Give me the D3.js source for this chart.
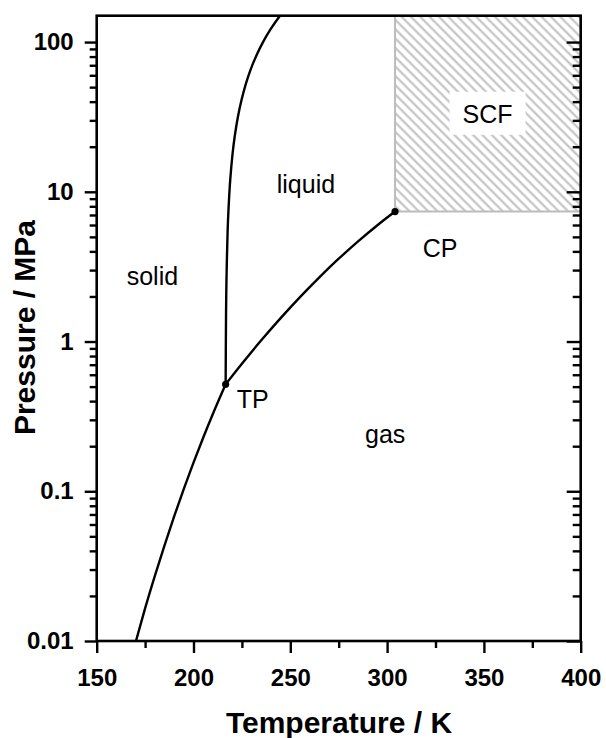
<!DOCTYPE html>
<html>
<head>
<meta charset="utf-8">
<script src="https://cdn.jsdelivr.net/npm/d3@7"></script>
<style>
  body { margin: 0; background: #fff; }
  svg { display: block; }
  text { font-family: "Liberation Sans", Arial, Helvetica, sans-serif; fill: #000; }
</style>
</head>
<body>
<svg id="chart" width="606" height="738"></svg>
<script>
// Axis ticks
const xTicks = [150, 200, 250, 300, 350, 400];
const xMinorTicks = [175, 225, 275, 325, 375];
const yTicks = [0.01, 0.1, 1, 10, 100];
const yTickLabels = ["0.01", "0.1", "1", "10", "100"];

// Solid–gas boundary (sublimation curve), T in K, P in MPa
const sublimationT = [169, 175, 180, 185, 190, 195, 200, 205, 210, 216.6];
const sublimationP = [0.0087, 0.0165, 0.0271, 0.0434, 0.0679, 0.1038, 0.1553, 0.2279, 0.3283, 0.518];

// Liquid–gas boundary (vapour pressure curve)
const vaporT = [216.6, 225, 235, 245, 255, 265, 275, 285, 295, 304.1];
const vaporP = [0.518, 0.711, 1.019, 1.434, 1.981, 2.685, 3.573, 4.667, 5.983, 7.38];

// Solid–liquid boundary (melting curve)
const meltT = [216.6, 216.8, 217.03, 217.6, 218.06, 218.97, 220.2, 221.3, 222.9, 224.8, 227.0, 229.4, 232.5, 235.9, 240.0, 244.3, 246.5];
const meltP = [0.518, 1.48, 2.57, 5.34, 7.55, 12.0, 18.03, 23.48, 31.47, 41.0, 52.39, 65.0, 81.41, 100.0, 122.8, 147.6, 160.4];

// Triple point and critical point
const pointNames = ["TP", "CP"];
const pointT = [216.6, 304.1];
const pointP = [0.518, 7.38];

// Supercritical region bounds
const scfT = [304.1, 400];
const scfP = [7.38, 150];

const svg = d3.select("#chart");
const mLeft = 96.7, mRight = 580.7, mTop = 15.7, mBottom = 641;

const x = d3.scaleLinear().domain([150, 400]).range([mLeft, mRight]);
const y = d3.scaleLog().domain([0.01, 150]).range([mBottom, mTop]);

const defs = svg.append("defs");
defs.append("clipPath").attr("id", "plotClip")
  .append("rect").attr("x", mLeft).attr("y", mTop)
  .attr("width", mRight - mLeft).attr("height", mBottom - mTop);

const pat = defs.append("pattern")
  .attr("id", "hatch")
  .attr("patternUnits", "userSpaceOnUse")
  .attr("width", 6.6).attr("height", 6.6)
  .attr("patternTransform", "rotate(-45)");
pat.append("line")
  .attr("x1", 1.5).attr("y1", -1).attr("x2", 1.5).attr("y2", 7.6)
  .attr("stroke", "#bfbfbf").attr("stroke-width", 2);

const plot = svg.append("g").attr("clip-path", "url(#plotClip)");

// Supercritical fluid region
plot.append("rect")
  .attr("x", x(scfT[0])).attr("y", y(scfP[1]))
  .attr("width", x(scfT[1]) - x(scfT[0]))
  .attr("height", y(scfP[0]) - y(scfP[1]))
  .attr("fill", "url(#hatch)");
plot.append("path")
  .attr("d", d3.line()([[x(scfT[0]), y(scfP[1])], [x(scfT[0]), y(scfP[0])], [x(scfT[1]), y(scfP[0])]]))
  .attr("fill", "none").attr("stroke", "#bcbcbc").attr("stroke-width", 2);

// Phase boundaries
const line = d3.line().x(d => x(d[0])).y(d => y(d[1])).curve(d3.curveCatmullRom.alpha(0.5));
const curves = [
  d3.zip(sublimationT, sublimationP),
  d3.zip(vaporT, vaporP),
  d3.zip(meltT, meltP)
];
plot.selectAll("path.boundary").data(curves).join("path")
  .attr("class", "boundary")
  .attr("d", line)
  .attr("fill", "none").attr("stroke", "#000").attr("stroke-width", 2.4)
  .attr("stroke-linejoin", "round");

plot.selectAll("circle.pt").data(d3.zip(pointT, pointP)).join("circle")
  .attr("class", "pt")
  .attr("cx", d => x(d[0])).attr("cy", d => y(d[1])).attr("r", 3.6)
  .attr("fill", "#000");

// SCF label on a white box
const scfGroup = svg.append("g");
const scfBox = scfGroup.append("rect").attr("fill", "#fff");
const scfText = scfGroup.append("text")
  .attr("x", x(351.9)).attr("y", y(28.9))
  .attr("text-anchor", "middle").attr("font-size", 25)
  .text("SCF");
const bb = scfText.node().getBBox();
scfBox
  .attr("x", bb.x - 13).attr("y", bb.y - 8)
  .attr("width", bb.width + 26).attr("height", bb.height + 15);

// Region and point labels
const labels = [
  ["solid", 165.5, 2.38],
  ["liquid", 243.0, 9.77],
  ["gas", 288.6, 0.209],
  [pointNames[0], 222.3, 0.358],
  [pointNames[1], 318.4, 3.68]
];
svg.selectAll("text.lab").data(labels).join("text")
  .attr("class", "lab")
  .attr("x", d => x(d[1])).attr("y", d => y(d[2]))
  .attr("font-size", 25)
  .text(d => d[0]);

// Frame
svg.append("rect")
  .attr("x", mLeft).attr("y", mTop)
  .attr("width", mRight - mLeft).attr("height", mBottom - mTop)
  .attr("fill", "none").attr("stroke", "#000").attr("stroke-width", 2.6);

// Minor y ticks
const yMinor = [];
yTicks.forEach(dec => {
  for (let k = 2; k <= 9; k++) { const v = dec * k; if (v <= 150) yMinor.push(v); }
});

// Bottom axis
svg.append("g").attr("transform", `translate(0,${mBottom})`)
  .call(d3.axisBottom(x).tickValues(xTicks).tickSize(12).tickPadding(16).tickFormat(d3.format("d")));
svg.append("g").attr("transform", `translate(0,${mBottom})`)
  .call(d3.axisBottom(x).tickValues(xMinorTicks).tickSize(7).tickFormat(""));

// Left axis
svg.append("g").attr("transform", `translate(${mLeft},0)`)
  .call(d3.axisLeft(y).tickValues(yTicks).tickSize(12).tickPadding(11)
    .tickFormat((d, i) => yTickLabels[i]));
svg.append("g").attr("transform", `translate(${mLeft},0)`)
  .call(d3.axisLeft(y).tickValues(yMinor).tickSize(7).tickFormat(""));

// Right axis (ticks pointing inward)
svg.append("g").attr("transform", `translate(${mRight},0)`)
  .call(d3.axisLeft(y).tickValues(yTicks).tickSize(14).tickFormat(""));
svg.append("g").attr("transform", `translate(${mRight},0)`)
  .call(d3.axisLeft(y).tickValues(yMinor).tickSize(8).tickFormat(""));

svg.selectAll(".domain").remove();
svg.selectAll(".tick line").attr("stroke", "#000").attr("stroke-width", 2.4);
svg.selectAll(".tick text")
  .attr("font-size", 24).attr("font-weight", "bold")
  .attr("font-family", "\"Liberation Sans\", Arial, sans-serif").attr("fill", "#000");

// Axis titles
svg.append("text")
  .attr("x", 339).attr("y", 733)
  .attr("text-anchor", "middle").attr("font-size", 30).attr("font-weight", "bold")
  .text("Temperature / K");
svg.append("text")
  .attr("transform", `translate(35,327.5) rotate(-90)`)
  .attr("text-anchor", "middle").attr("font-size", 30).attr("font-weight", "bold")
  .text("Pressure / MPa");
</script>
</body>
</html>
